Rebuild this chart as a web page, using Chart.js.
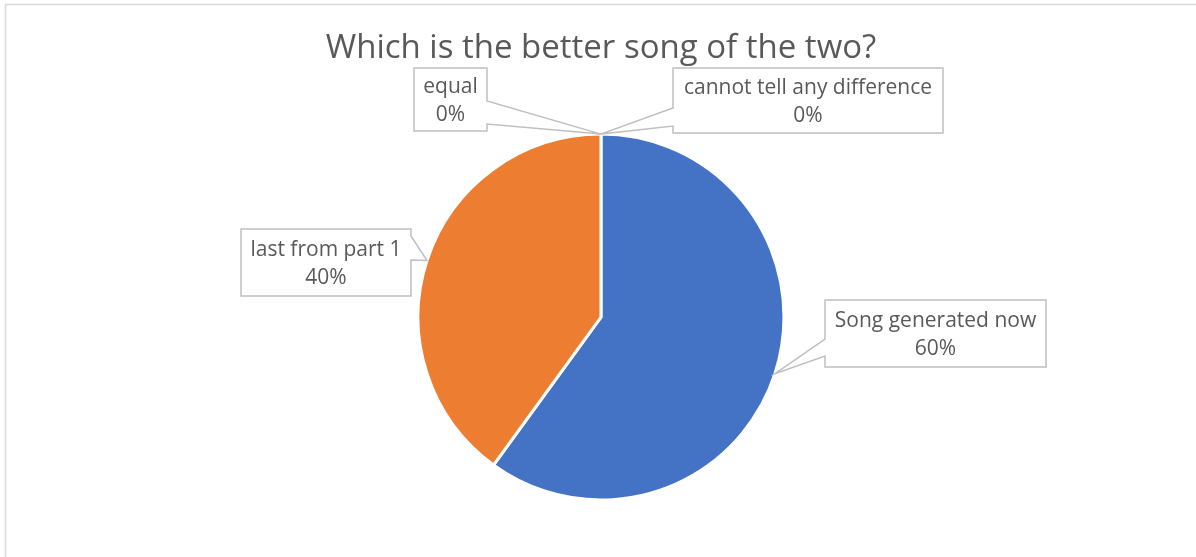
<!DOCTYPE html>
<html>
<head>
<meta charset="utf-8">
<script src="https://cdn.jsdelivr.net/npm/chart.js@4/dist/chart.umd.min.js"></script>
<style>
  html, body { margin: 0; padding: 0; background: #fff; }
  #wrap { width: 1196px; height: 557px; }
</style>
</head>
<body>
<div id="wrap"><canvas id="pie" width="1196" height="557"></canvas></div>
<script>
// chart data
const chartTitle = 'Which is the better song of the two?';
const categories = ['Song generated now', 'last from part 1', 'equal', 'cannot tell any difference'];
const shares = [60, 40, 0, 0];
const sliceColors = ['#4472C4', '#ED7D31', '#A5A5A5', '#FFC000'];

// where the callout boxes sit (x, y, w, h), which side the wedge is on and where it leaves the box
const calloutBoxes = [
  { x: 825, y: 300, w: 221, h: 67, side: 'left', y1: 339, y2: 356 },
  { x: 241, y: 229, w: 170, h: 67, side: 'right', y1: 236, y2: 260 },
  { x: 414, y: 68, w: 73, h: 63, side: 'right', y1: 101, y2: 124 },
  { x: 673, y: 68, w: 270, h: 65, side: 'left', y1: 108, y2: 126 }
];

const textColor = '#595959';
const fontFam = '"Open Sans", "Noto Sans", sans-serif';

// frame of the chart (only top and left show in the picture)
const framePlugin = {
  id: 'frame',
  beforeDraw(chart) {
    const c = chart.ctx;
    c.save();
    c.fillStyle = '#fff';
    c.fillRect(0, 0, chart.width, chart.height);
    c.strokeStyle = '#d9d9d9';
    c.lineWidth = 1.5;
    c.beginPath();
    c.moveTo(5.5, chart.height);
    c.lineTo(5.5, 4.5);
    c.lineTo(chart.width, 4.5);
    c.stroke();
    c.restore();
  }
};

// excel style callouts with the wedge pointing at the slice edge
const calloutPlugin = {
  id: 'callouts',
  afterDatasetsDraw(chart) {
    const c = chart.ctx;
    const meta = chart.getDatasetMeta(0);
    const total = shares.reduce((a, b) => a + b, 0);
    c.save();
    meta.data.forEach((arc, i) => {
      const b = calloutBoxes[i];
      const p = arc.getProps(['x', 'y', 'startAngle', 'endAngle', 'outerRadius'], true);
      const mid = (p.startAngle + p.endAngle) / 2;
      const ax = p.x + Math.cos(mid) * p.outerRadius;
      const ay = p.y + Math.sin(mid) * p.outerRadius;

      c.beginPath();
      if (b.side === 'right') {
        c.moveTo(b.x, b.y);
        c.lineTo(b.x + b.w, b.y);
        c.lineTo(b.x + b.w, b.y1);
        c.lineTo(ax, ay);
        c.lineTo(b.x + b.w, b.y2);
        c.lineTo(b.x + b.w, b.y + b.h);
        c.lineTo(b.x, b.y + b.h);
      } else {
        c.moveTo(b.x, b.y);
        c.lineTo(b.x + b.w, b.y);
        c.lineTo(b.x + b.w, b.y + b.h);
        c.lineTo(b.x, b.y + b.h);
        c.lineTo(b.x, b.y2);
        c.lineTo(ax, ay);
        c.lineTo(b.x, b.y1);
      }
      c.closePath();
      c.fillStyle = '#fff';
      c.fill();
      c.strokeStyle = '#bfbfbf';
      c.lineWidth = 1.5;
      c.stroke();

      const pct = Math.round(shares[i] / total * 100) + '%';
      c.fillStyle = textColor;
      c.font = '21px ' + fontFam;
      c.textAlign = 'center';
      c.textBaseline = 'middle';
      const cx = b.x + b.w / 2, cy = b.y + b.h / 2;
      c.fillText(categories[i], cx, cy - 12.5);
      c.fillText(pct, cx, cy + 15.5);
    });
    c.restore();
  }
};

new Chart(document.getElementById('pie'), {
  type: 'pie',
  data: {
    labels: categories,
    datasets: [{
      data: shares,
      backgroundColor: sliceColors,
      borderColor: '#ffffff',
      borderWidth: 3
    }]
  },
  options: {
    responsive: false,
    animation: false,
    layout: { padding: { left: 6, right: 0, top: 0, bottom: 55.5 } },
    plugins: {
      legend: { display: false },
      tooltip: { enabled: false },
      title: {
        display: true,
        text: chartTitle,
        color: textColor,
        font: { family: fontFam, size: 33, weight: 'normal', lineHeight: 1.2 },
        padding: { top: 29, bottom: 64 }
      }
    }
  },
  plugins: [framePlugin, calloutPlugin]
});
</script>
</body>
</html>
